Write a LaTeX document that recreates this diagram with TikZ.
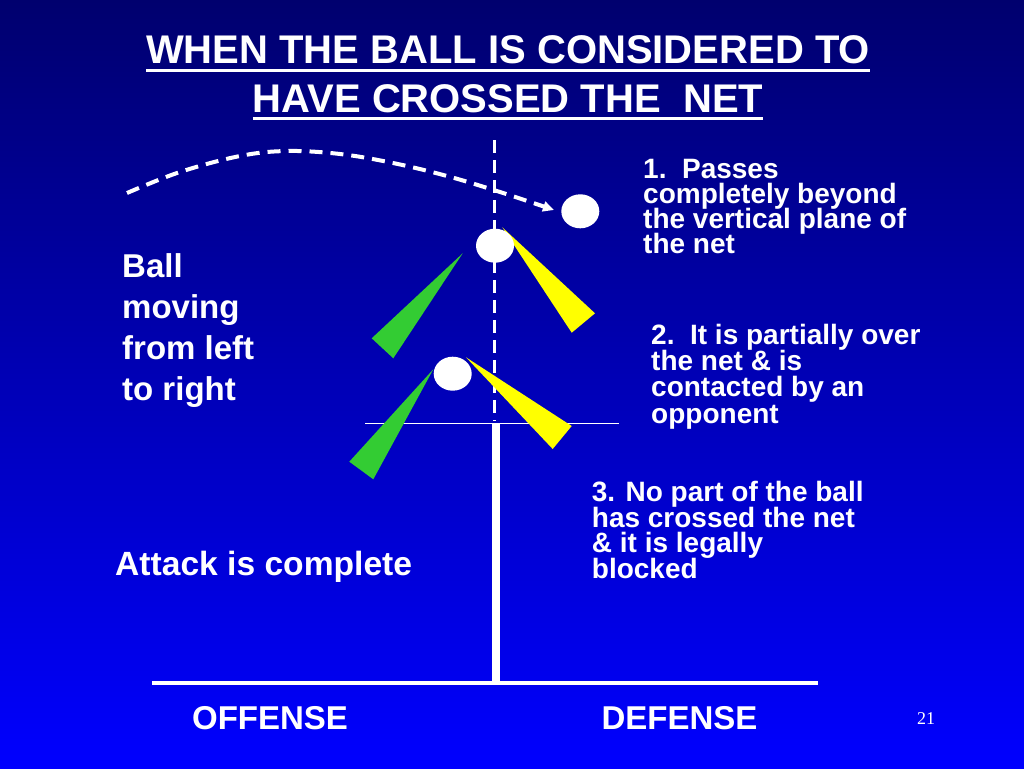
\documentclass[tikz,border=0pt]{standalone}
\usepackage{fontspec}
\setmainfont{Liberation Sans}
\newfontfamily\serifnum{Liberation Serif}
\usetikzlibrary{arrows.meta,shapes.geometric}
\definecolor{bgtop}{RGB}{0,0,110}
\definecolor{bgbot}{RGB}{0,0,255}
\definecolor{wedgegreen}{RGB}{51,204,51}
\definecolor{wedgeyellow}{RGB}{255,255,0}
\newcommand\myul[1]{\setbox0\hbox{#1}\rlap{\rule[-8.2pt]{\wd0}{3pt}}\box0}
\newcommand\tightlines{\lineskiplimit=-60pt\lineskip=0pt}
\tikzset{
  txt/.style={text=white, inner sep=0pt, align=left, anchor=base west},
  rulebox/.style={text=white, inner sep=0pt, align=left, anchor=base west},
  sidebox/.style={text=white, inner sep=0pt, align=left, anchor=base west, font=\bfseries\fontsize{33}{41}\selectfont\tightlines},
  ballshape/.style={ellipse, fill=white, draw=none, minimum width=38pt, minimum height=34pt, inner sep=0pt},
  netdash/.style={white, line width=3.5pt, dash pattern=on 13pt off 7pt},
  flight/.style={white, line width=4pt, dash pattern=on 13pt off 8pt, -{Triangle[length=11pt,width=10pt]}},
}
\begin{document}
\begin{tikzpicture}[x=1pt,y=-1pt]
\useasboundingbox (0,0) rectangle (1024,768);
\shade[top color=bgtop, bottom color=bgbot] (0,0) rectangle (1024,768);

% title (anchor base = baseline of last line)
\node[text=white, inner sep=0pt, align=center, anchor=base, font=\bfseries\fontsize{40}{48.7}\selectfont\tightlines] (title) at (508,112)
  {\myul{WHEN THE BALL IS CONSIDERED TO}\\\myul{HAVE CROSSED THE\ \ NET}};

% net
\draw[white, line width=1pt] (365,423) -- (619,423);
\coordinate (nettop) at (494.5,140);
\coordinate (netmid) at (494.5,421);
\draw[netdash] (nettop) -- (netmid);
\coordinate (posttop) at (495.5,423);
\coordinate (postbot) at (495.5,681);
\draw[white, line width=8pt] (posttop) -- (postbot);
\coordinate (floorL) at (152,682.5);
\coordinate (floorR) at (818,682.5);
\draw[white, line width=4pt] (floorL) -- (floorR);

% wedges (hands)
\fill[wedgegreen] (462.7,253.3) -- (371.7,338.3) -- (393.3,358.3) -- cycle;
\fill[wedgeyellow] (502.3,227.3) -- (595,313.3) -- (571.7,332.7) -- cycle;
\fill[wedgegreen] (433.3,369.3) -- (349.3,461.7) -- (373.3,479.3) -- cycle;
\fill[wedgeyellow] (466,357.3) -- (571.7,426) -- (552.7,449) -- cycle;

% balls
\node[ballshape] (ball1) at (580.3,211.3) {};
\node[ballshape] (ball2) at (495,245.7) {};
\node[ballshape] (ball3) at (452.7,373.7) {};

% flight path
\coordinate (flightstart) at (127,193);
\coordinate (flightend) at (554,210);
\draw[flight] plot[smooth, tension=0.6] coordinates {(flightstart) (180,172) (240,156) (287,151) (340,154) (393,163) (447,176) (500,192) (flightend)};

% texts (anchor base = baseline of last line)
\node[rulebox, font=\bfseries\fontsize{28}{25.2}\selectfont\tightlines] (r1) at (643,253.6) {1.\ \ Passes\\completely beyond\\the vertical plane of\\the net};
\node[rulebox, font=\bfseries\fontsize{28}{26.3}\selectfont\tightlines] (r2) at (651,423.2) {2.\ \ It is partially over\\the net \& is\\contacted by an\\opponent};
\node[rulebox, font=\bfseries\fontsize{28}{25.5}\selectfont\tightlines] (r3) at (591.7,578.2) {3. No part of the ball\\has crossed the net\\\& it is legally\\blocked};
\node[sidebox] (side) at (122,400) {Ball\\moving\\from left\\to right};
\node[txt, font=\bfseries\fontsize{33.6}{40}\selectfont] (attack) at (115,575) {Attack is complete};
\node[text=white, inner sep=0pt, anchor=base, font=\bfseries\fontsize{33}{40}\selectfont] (off) at (270,729) {OFFENSE};
\node[text=white, inner sep=0pt, anchor=base, font=\bfseries\fontsize{33}{40}\selectfont] (def) at (679.5,729) {DEFENSE};
\node[text=white, inner sep=0pt, anchor=base, font=\serifnum\fontsize{18}{20}\selectfont] (pagenum) at (926,724) {21};
\end{tikzpicture}
\end{document}
